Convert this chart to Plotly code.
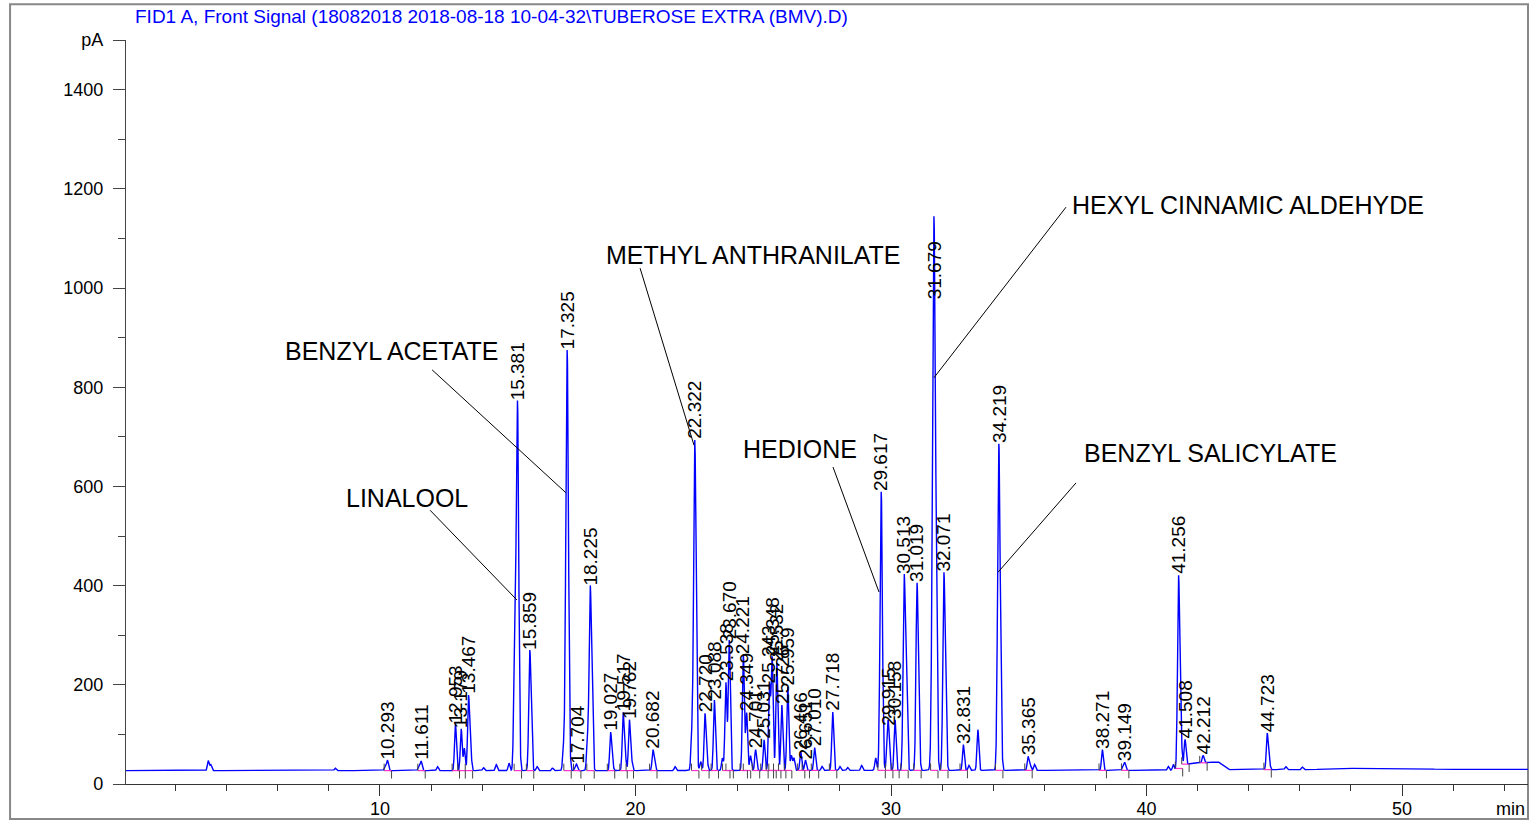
import numpy as np
import plotly.graph_objects as go

# ---------------- data ----------------
title_text = "FID1 A, Front Signal (18082018 2018-08-18 10-04-32\\TUBEROSE EXTRA (BMV).D)"

# baseline level (pA) at given times (min)
base_t = [0.0, 10.0, 20.0, 30.0, 40.0, 41.15, 41.5, 42.8, 43.2, 46.5, 47.5, 50.5, 51.5, 55.0]
base_v = [27.0, 27.0, 27.0, 27.5, 27.5, 27.5, 40.0, 45.0, 29.0, 29.0, 31.5, 31.5, 29.5, 29.5]

# peaks: retention time (min), height above baseline (pA)
peak_rt = [3.28, 3.38, 8.25, 10.20, 10.293, 11.52, 11.611, 12.25, 12.953, 13.179, 13.30,
           13.467, 13.55, 14.05, 14.55, 15.05, 15.27, 15.381, 15.859, 15.92, 16.15, 16.75,
           17.18, 17.325, 17.65, 17.704, 18.12, 18.225, 18.30, 19.027, 19.10, 19.517, 19.60,
           19.762, 19.85, 20.682, 20.75, 21.55, 22.20, 22.322, 22.55, 22.720, 22.80, 23.088,
           23.40, 23.538, 23.670, 24.221, 24.349, 24.50, 24.701, 25.031, 25.243, 25.348,
           25.532, 25.726, 25.959, 26.10, 26.20, 26.466, 26.651, 27.010, 27.30, 27.718, 28.00,
           28.30, 28.85, 29.40, 29.617, 29.86, 29.915, 30.158, 30.513, 30.60, 31.019, 31.10,
           31.679, 31.78, 32.071, 32.15, 32.831, 33.05, 33.40, 34.219, 34.30, 35.365, 35.45,
           35.62, 38.271, 39.08, 39.149, 40.85, 41.05, 41.256, 41.35, 41.508, 42.212, 44.723,
           44.80, 45.45, 46.10]
peak_h = [20, 12, 5, 8, 21, 8, 19, 8, 94, 84, 45,
          150, 40, 6, 12, 15, 235, 742, 225, 70, 8, 5,
          40, 848, 8, 10, 60, 355, 130, 76, 15, 116, 30,
          102, 20, 40, 15, 8, 60, 667, 18, 114, 20, 142,
          25, 177, 263, 233, 116, 30, 42, 62, 169, 227,
          217, 132, 169, 30, 25, 38, 21, 46, 8, 118, 8,
          6, 10, 25, 562, 72, 66, 102, 380, 197, 374, 60,
          1111, 200, 392, 80, 52, 10, 82, 650, 100, 28, 10,
          12, 42, 8, 15, 8, 12, 388, 60, 50, 15, 72,
          20, 6, 5]

# integrated (labelled) peaks
label_rt = [10.293, 11.611, 12.953, 13.179, 13.467, 15.381, 15.859, 17.325, 17.704, 18.225,
            19.027, 19.517, 19.762, 20.682, 22.322, 22.720, 23.088, 23.538, 23.670, 24.221,
            24.349, 24.701, 25.031, 25.243, 25.348, 25.532, 25.726, 25.959, 26.466, 26.651,
            27.010, 27.718, 29.617, 29.915, 30.158, 30.513, 31.019, 31.679, 32.071, 32.831,
            34.219, 35.365, 38.271, 39.149, 41.256, 41.508, 42.212, 44.723]

# compound names, label centres and leader lines (data units)
comp_names = ["LINALOOL", "BENZYL ACETATE", "METHYL ANTHRANILATE", "HEDIONE",
              "HEXYL CINNAMIC ALDEHYDE", "BENZYL SALICYLATE"]
comp_x = [11.05, 10.47, 24.60, 26.44, 43.99, 42.52]
comp_y = [577, 873, 1067, 675, 1167, 667]
lead_x0 = [11.96, 12.04, 20.18, 27.73, 36.85, 37.24]
lead_y0 = [552, 835, 1040, 639, 1163, 607]
lead_x1 = [15.36, 17.28, 22.29, 29.53, 31.68, 34.19]
lead_y1 = [371, 587, 683, 387, 819, 427]

y_tickvals = [0, 200, 400, 600, 800, 1000, 1200, 1400, 1500]
y_ticktext = ["0", "200", "400", "600", "800", "1000", "1200", "1400", "pA"]
x_tickvals = [10, 20, 30, 40, 50]
x_ticktext = ["10", "20", "30", "40", "50"]

# ---------------- build the signal ----------------
t = np.arange(0.0, 55.0, 0.004)
baseline = np.interp(t, base_t, base_v)
signal = baseline.copy()
for rt, h in zip(peak_rt, peak_h):
    s = 0.034 + 0.00002 * h
    signal += h * np.exp(-0.5 * ((t - rt) / s) ** 2)

LABEL_CAP = 975
label_y = [min(float(np.interp(r, t, signal)), LABEL_CAP) for r in label_rt]

# integration baselines and peak start/end markers
pink_x, pink_y, tick_x, tick_y = [], [], [], []
for r in label_rt:
    b = float(np.interp(r, base_t, base_v))
    pink_x += [r - 0.13, r + 0.16, None]
    pink_y += [b, b, None]
    tick_x += [r - 0.13, r - 0.13, None, r + 0.16, r + 0.16, None]
    tick_y += [b, b + 14, None, b - 16, b, None]

FONT = "Arial, Liberation Sans, sans-serif"

fig = go.Figure()
fig.add_trace(go.Scatter(x=t, y=signal, mode="lines",
                         line=dict(color="#0000ff", width=1.4), hoverinfo="skip"))
fig.add_trace(go.Scatter(x=pink_x, y=pink_y, mode="lines",
                         line=dict(color="#ff33cc", width=1.2), hoverinfo="skip"))
fig.add_trace(go.Scatter(x=tick_x, y=tick_y, mode="lines",
                         line=dict(color="#444444", width=1), hoverinfo="skip"))

annotations = []
for r, yv in zip(label_rt, label_y):
    annotations.append(dict(x=r, y=yv, xref="x", yref="y", text=f"{r:.3f}",
                            textangle=-90, showarrow=False, xanchor="center",
                            yanchor="bottom", borderpad=0,
                            font=dict(family=FONT, size=19, color="black")))
for name, xv, yv in zip(comp_names, comp_x, comp_y):
    annotations.append(dict(x=xv, y=yv, xref="x", yref="y", text=name,
                            showarrow=False, xanchor="center", yanchor="middle",
                            font=dict(family=FONT, size=25, color="black")))
annotations.append(dict(x=0.005, y=1.031, xref="paper", yref="paper", text=title_text,
                        showarrow=False, xanchor="left", yanchor="middle",
                        font=dict(family=FONT, size=19, color="#0000ff")))
annotations.append(dict(x=0.976, y=0, xref="paper", yref="paper", text="min",
                        showarrow=False, xanchor="left", yanchor="top", yshift=-13,
                        font=dict(family=FONT, size=18, color="black")))

shapes = []
for a, b, c, d in zip(lead_x0, lead_y0, lead_x1, lead_y1):
    shapes.append(dict(type="line", xref="x", yref="y", x0=a, y0=b, x1=c, y1=d,
                       line=dict(color="black", width=1)))
shapes.append(dict(type="rect", xref="paper", yref="paper",
                   x0=-0.0827, x1=1.0, y0=-0.047, y1=1.048,
                   line=dict(color="#888888", width=2), layer="below"))

fig.update_layout(
    width=1531, height=820,
    margin=dict(l=126, r=3, t=40, b=36, autoexpand=False),
    paper_bgcolor="white", plot_bgcolor="white",
    showlegend=False,
    annotations=annotations,
    shapes=shapes,
    font=dict(family=FONT, size=18, color="black"),
)
fig.update_xaxes(range=[0.06, 54.93], showgrid=False, zeroline=False, automargin=False,
                 showline=True, linecolor="#333333", linewidth=1.2,
                 tickmode="array", tickvals=x_tickvals, ticktext=x_ticktext,
                 ticks="outside", ticklen=11, tickcolor="#333333",
                 ticklabelstandoff=-3,
                 tickfont=dict(family=FONT, size=18, color="black"),
                 minor=dict(tick0=0, dtick=2, ticks="outside", ticklen=6,
                            tickcolor="#333333"))
fig.update_yaxes(range=[0, 1500], showgrid=False, zeroline=False, automargin=False,
                 showline=True, linecolor="#444444", linewidth=1.2,
                 tickmode="array", tickvals=y_tickvals, ticktext=y_ticktext,
                 ticks="outside", ticklen=12, tickcolor="#444444",
                 ticklabelstandoff=6,
                 tickfont=dict(family=FONT, size=18, color="black"),
                 minor=dict(tick0=0, dtick=100, ticks="outside", ticklen=7,
                            tickcolor="#444444"))

fig.write_html("out.html", config={"displayModeBar": False},
               post_script="document.body.style.margin='0';document.body.style.overflow='hidden';")
